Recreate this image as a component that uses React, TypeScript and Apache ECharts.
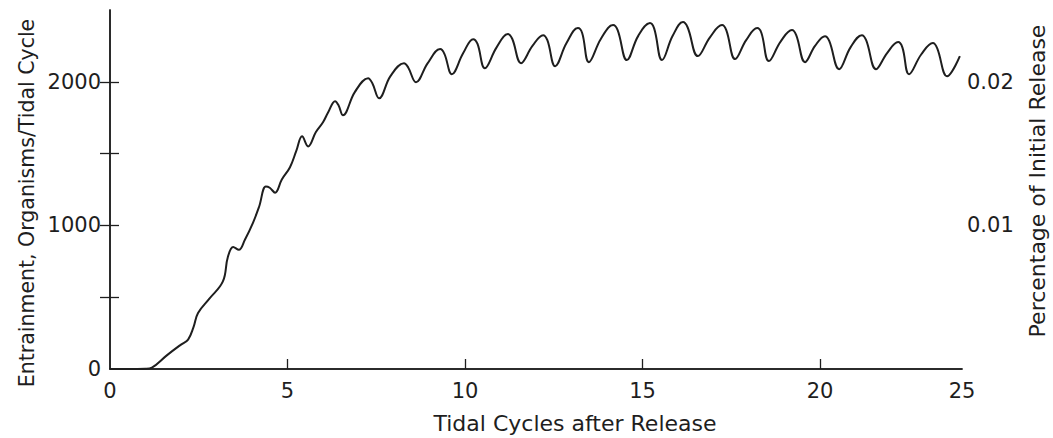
import React, { useEffect, useRef } from "react";
import * as echarts from "echarts";

// Tidal cycles after release (x) and entrainment, organisms / tidal cycle (y)
const cycles: number[] = [
  0, 0.5, 1.0, 1.18, 1.6, 2.0, 2.2, 2.35, 2.48, 2.8, 3.18, 3.32, 3.47, 3.63, 3.8, 4.03, 4.2, 4.39, 4.5, 4.65,
  4.84, 5.07, 5.25, 5.41, 5.58, 5.8, 6.0, 6.15, 6.34, 6.44, 6.56, 6.9, 7.27, 7.39, 7.58, 7.9, 8.28, 8.4, 8.62,
  8.95, 9.3, 9.42, 9.63, 9.95, 10.23, 10.35, 10.56, 10.89, 11.21, 11.33, 11.58, 11.9, 12.2, 12.32, 12.54,
  12.86, 13.18, 13.3, 13.49, 13.83, 14.17, 14.3, 14.56, 14.88, 15.21, 15.33, 15.55, 15.85, 16.14, 16.27,
  16.56, 16.9, 17.24, 17.36, 17.61, 17.92, 18.23, 18.35, 18.56, 18.89, 19.21, 19.33, 19.58, 19.86, 20.14,
  20.26, 20.54, 20.86, 21.18, 21.3, 21.58, 21.89, 22.2, 22.32, 22.51, 22.85, 23.18, 23.3, 23.58, 23.94,
];
const entrainment: number[] = [
  0, 0, 2, 10, 95, 170, 205, 290, 390, 490, 610, 780, 850, 830, 900, 1020, 1130, 1271, 1262, 1228,
  1320, 1405, 1520, 1620, 1550, 1650, 1718, 1790, 1865, 1835, 1767, 1930, 2025, 1990, 1885, 2040, 2130, 2100, 1997,
  2130, 2228, 2195, 2053, 2200, 2297, 2265, 2095, 2240, 2332, 2300, 2130, 2250, 2325, 2290, 2109,
  2270, 2374, 2340, 2137, 2300, 2395, 2360, 2151, 2320, 2409, 2370, 2151, 2320, 2416, 2380,
  2179, 2310, 2395, 2360, 2158, 2290, 2374, 2340, 2144, 2280, 2360, 2325, 2137, 2250, 2318,
  2285, 2088, 2240, 2325, 2290, 2088, 2200, 2277, 2240, 2053, 2190, 2270, 2235, 2039, 2179,
];

const xLabelValues: number[] = [0, 5, 10, 15, 20, 24];
const xLabelTexts: string[] = ["0", "5", "10", "15", "20", "25"];
const xTickValues: number[] = [5, 10, 15, 20];
const leftLabelValues: number[] = [0, 1000, 2000];
const leftTickValues: number[] = [500, 1000, 1500, 2000];
const rightLabelValues: number[] = [0.01, 0.02];
const rightTickValues: number[] = [0.005, 0.01, 0.015, 0.02];

const INK = "#1e1e1e";
const FONT = "DejaVu Sans";

export default function App() {
  const ref = useRef<HTMLDivElement>(null);

  useEffect(() => {
    if (!ref.current) return;
    const chart = echarts.init(ref.current, undefined, { renderer: "svg" });
    const axisLine = { show: true, lineStyle: { color: INK, width: 1.5 } };
    chart.setOption({
      animation: false,
      backgroundColor: "#ffffff",
      grid: { left: 110, right: 91, top: 10, bottom: 69 },
      xAxis: [
        {
          type: "value",
          min: 0,
          max: 24,
          splitLine: { show: false },
          axisLine,
          axisTick: {
            show: true,
            inside: true,
            length: 10,
            customValues: xTickValues,
            lineStyle: { color: INK, width: 1.3 },
          },
          axisLabel: {
            customValues: xLabelValues,
            formatter: (v: number) => {
              const i = xLabelValues.findIndex((t) => Math.abs(t - v) < 1e-6);
              return i >= 0 ? xLabelTexts[i] : "";
            },
            color: INK,
            fontFamily: FONT,
            fontSize: 21,
            margin: 11,
          },
        },
        {
          type: "value",
          position: "top",
          min: 0,
          max: 24,
          splitLine: { show: false },
          axisLine,
          axisTick: { show: false },
          axisLabel: { show: false },
        },
      ],
      yAxis: [
        {
          type: "value",
          min: 0,
          max: 2500,
          splitLine: { show: false },
          axisLine,
          axisTick: {
            show: true,
            inside: true,
            length: 9,
            customValues: leftTickValues,
            lineStyle: { color: INK, width: 1.3 },
          },
          axisLabel: {
            customValues: leftLabelValues,
            formatter: (v: number) => String(v),
            color: INK,
            fontFamily: FONT,
            fontSize: 21,
            margin: 9,
          },
        },
        {
          type: "value",
          position: "right",
          min: 0,
          max: 0.025,
          splitLine: { show: false },
          axisLine,
          axisTick: {
            show: true,
            inside: true,
            length: 10,
            customValues: rightTickValues,
            lineStyle: { color: INK, width: 1.3 },
          },
          axisLabel: {
            customValues: rightLabelValues,
            formatter: (v: number) => v.toFixed(2),
            color: INK,
            fontFamily: FONT,
            fontSize: 21,
            margin: 5,
          },
        },
      ],
      series: [
        {
          type: "line",
          xAxisIndex: 0,
          yAxisIndex: 0,
          data: cycles.map((c, i) => [c, entrainment[i]]),
          smooth: 0.4,
          showSymbol: false,
          lineStyle: { color: INK, width: 2 },
        },
      ],
      graphic: [
        {
          type: "text",
          x: 575,
          y: 423,
          style: {
            text: "Tidal Cycles after Release",
            textAlign: "center",
            textVerticalAlign: "middle",
            fontFamily: FONT,
            fontSize: 22,
            fill: INK,
          },
        },
        {
          type: "text",
          x: 27,
          y: 203,
          rotation: Math.PI / 2,
          style: {
            text: "Entrainment, Organisms/Tidal Cycle",
            textAlign: "center",
            textVerticalAlign: "middle",
            fontFamily: FONT,
            fontSize: 20.5,
            fill: INK,
          },
        },
        {
          type: "text",
          x: 1037,
          y: 181,
          rotation: Math.PI / 2,
          style: {
            text: "Percentage of Initial Release",
            textAlign: "center",
            textVerticalAlign: "middle",
            fontFamily: FONT,
            fontSize: 22,
            fill: INK,
          },
        },
      ],
    });
    return () => chart.dispose();
  }, []);

  return (
    <div
      ref={ref}
      style={{ position: "absolute", left: 0, top: 0, width: 1053, height: 438 }}
    />
  );
}
